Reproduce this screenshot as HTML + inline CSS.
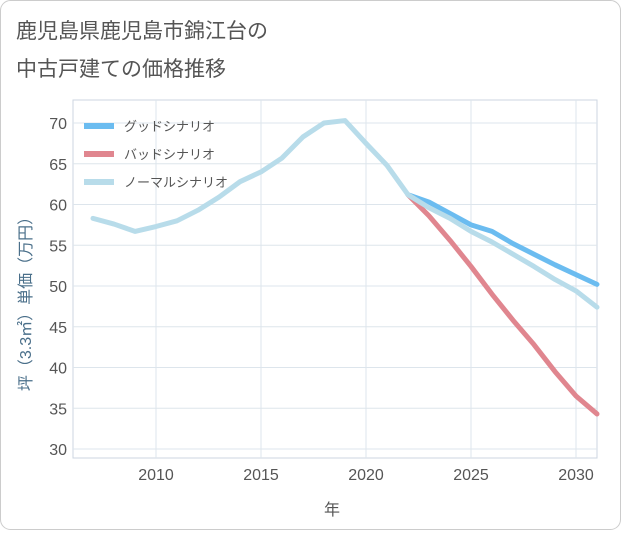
<!DOCTYPE html>
<html><head><meta charset="utf-8"><style>
body{margin:0;background:#fff;font-family:"Liberation Sans","Noto Sans CJK JP",sans-serif;}
#wrap{position:relative;width:621px;height:530px;}
</style></head><body>
<div id="wrap">
<svg id="chart" width="621" height="530" xmlns="http://www.w3.org/2000/svg">
<rect x="0.5" y="0.5" width="620" height="529" rx="10" fill="#fff" stroke="#ccc"/>
<text x="16" y="38" font-size="21" fill="#555">鹿児島県鹿児島市錦江台の</text>
<text x="16" y="76" font-size="21" fill="#555">中古戸建ての価格推移</text>
<g id="grid"></g><g id="series"></g><g id="legend"></g>
<text x="332" y="515" font-size="16" fill="#555" text-anchor="middle">年</text>
<text transform="translate(31,300) rotate(-90)" font-size="16" fill="#4a6f8a" text-anchor="middle">坪（3.3㎡）単価（万円）</text>
</svg></div>
<script>
const years=[2007,2008,2009,2010,2011,2012,2013,2014,2015,2016,2017,2018,2019,2020,2021,2022,2023,2024,2025,2026,2027,2028,2029,2030,2031];
const normal=[58.3,57.6,56.7,57.3,58.0,59.3,60.9,62.8,64.0,65.7,68.3,70.0,70.3,67.5,64.8,61.2,59.6,58.3,56.7,55.4,53.9,52.4,50.8,49.4,47.4];
const futureYears=[2022,2023,2024,2025,2026,2027,2028,2029,2030,2031];
const good=[61.2,60.3,58.9,57.5,56.7,55.2,53.9,52.6,51.4,50.2];
const bad=[61.2,58.6,55.6,52.4,49.0,45.8,42.8,39.5,36.5,34.3];
const yTicks=[30,35,40,45,50,55,60,65,70];
const xTicks=[2010,2015,2020,2025,2030];
const NS="http://www.w3.org/2000/svg";
const L=73,R=597,T=100,B=458;
const xs=y=>156+(y-2010)*21;
const ys=v=>123+(70-v)*8.15;
function mk(tag,attrs,parent){const e=document.createElementNS(NS,tag);for(const k in attrs)e.setAttribute(k,attrs[k]);parent.appendChild(e);return e;}
const grid=document.getElementById('grid');
const f=mk('rect',{x:L,y:T,width:R-L,height:B-T,fill:'#fff',stroke:'#ccd6e0'},grid);


yTicks.forEach(v=>{
 const l=mk('line',{x1:L,x2:R,y1:ys(v),y2:ys(v),stroke:'#dde5ec'},grid);
 
 
 const t=mk('text',{x:L-6,y:ys(v)+6,'font-size':16,fill:'#555','text-anchor':'end'},grid);t.textContent=v;
 
 
});
xTicks.forEach(v=>{
 const l=mk('line',{y1:T,y2:B,x1:xs(v),x2:xs(v),stroke:'#dde5ec'},grid);
 
 
 const t=mk('text',{x:xs(v),y:B+22,'font-size':16,fill:'#555','text-anchor':'middle'},grid);t.textContent=v;
 
 
});
const sg=document.getElementById('series');
function line(xv,yv,color,name){
 const p=mk('polyline',{points:xv.map((x,i)=>xs(x)+','+ys(yv[i])).join(' '),fill:'none',stroke:color,'stroke-width':5,'stroke-linejoin':'round','stroke-linecap':'round'},sg);
 
 
}
line(futureYears,good,'#6bbcf0','good-scenario-line');
line(futureYears,bad,'#e0868f','bad-scenario-line');
line(years,normal,'#b8dcea','normal-scenario-line');
const lg=document.getElementById('legend');
[['グッドシナリオ','#6bbcf0'],['バッドシナリオ','#e0868f'],['ノーマルシナリオ','#b8dcea']].forEach((d,i)=>{
 const y=126+i*28;
 const l=mk('line',{x1:84,x2:114,y1:y,y2:y,stroke:d[1],'stroke-width':6},lg);
 
 
 const t=mk('text',{x:124,y:y+5,'font-size':13,fill:'#555'},lg);t.textContent=d[0];
 
 
});
</script>
</body></html>
